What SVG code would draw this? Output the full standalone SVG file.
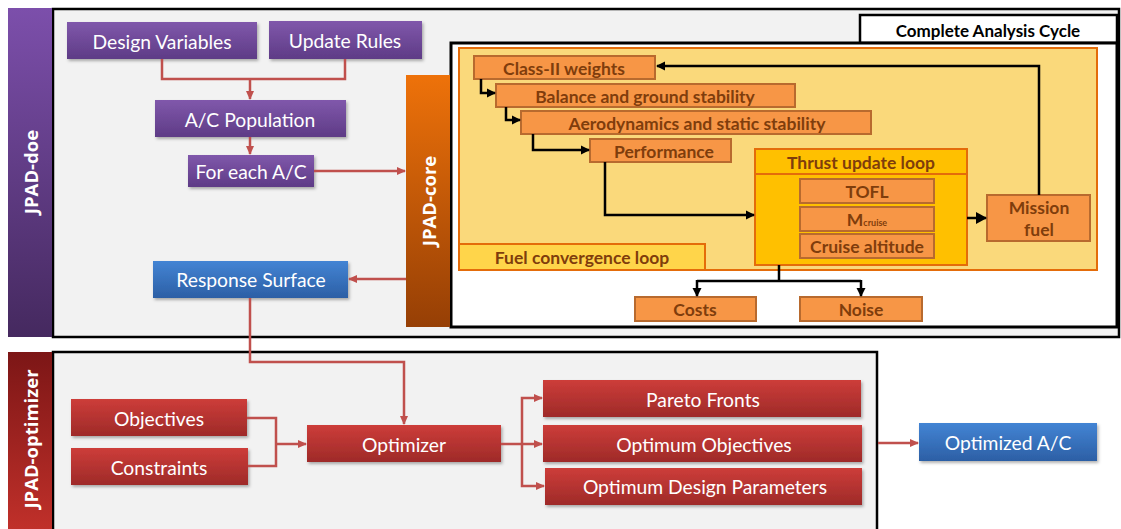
<svg xmlns="http://www.w3.org/2000/svg" width="1121" height="529" viewBox="0 0 1121 529">
<defs>
  <linearGradient id="gPurple" x1="0" y1="0" x2="0" y2="1"><stop offset="0" stop-color="#8058ab"/><stop offset="1" stop-color="#5e3b86"/></linearGradient>
  <linearGradient id="gRed" x1="0" y1="0" x2="0" y2="1"><stop offset="0" stop-color="#cd3d3a"/><stop offset="1" stop-color="#9e2a28"/></linearGradient>
  <linearGradient id="gBlue" x1="0" y1="0" x2="0" y2="1"><stop offset="0" stop-color="#4384d4"/><stop offset="1" stop-color="#2c5fa5"/></linearGradient>
  <linearGradient id="gDoe" x1="0" y1="0" x2="0" y2="1"><stop offset="0" stop-color="#7c4fab"/><stop offset="1" stop-color="#45295f"/></linearGradient>
  <linearGradient id="gCore" x1="0" y1="0" x2="0" y2="1"><stop offset="0" stop-color="#ee720a"/><stop offset="1" stop-color="#963f05"/></linearGradient>
  <linearGradient id="gOpt" x1="0" y1="0" x2="0" y2="1"><stop offset="0" stop-color="#7c1616"/><stop offset="1" stop-color="#c0302a"/></linearGradient>
  <filter id="sh" x="-5%" y="-10%" width="112%" height="130%"><feDropShadow dx="1.5" dy="2" stdDeviation="1.5" flood-color="#000" flood-opacity="0.3"/></filter>
  <marker id="aRed" markerWidth="10" markerHeight="10" refX="8" refY="5" orient="auto" markerUnits="userSpaceOnUse"><path d="M0,1 L9,5 L0,9 Z" fill="#c0504d"/></marker>
  <marker id="aBlk" markerWidth="10" markerHeight="10" refX="8" refY="5" orient="auto" markerUnits="userSpaceOnUse"><path d="M0,0.5 L9,5 L0,9.5 Z" fill="#000"/></marker>
  <marker id="aBlkBig" markerWidth="12" markerHeight="12" refX="10" refY="6" orient="auto" markerUnits="userSpaceOnUse"><path d="M0,0 L11,6 L0,12 Z" fill="#000"/></marker>
</defs>
<style>
  .lbl { font-family: Lato, "Open Sans", "Liberation Sans", sans-serif; fill: #fff; text-anchor: middle; dominant-baseline: central; font-size: 19.3px; }
  .side { font-family: "Open Sans", "Liberation Sans", sans-serif; font-weight: bold; fill: #fff; text-anchor: middle; dominant-baseline: central; font-size: 18.5px; }
  .ob { fill: #f79646; stroke: #b86a2e; stroke-width: 2; }
  .ot { font-family: Lato, "Open Sans", "Liberation Sans", sans-serif; font-weight: bold; fill: #7f3d0c; text-anchor: middle; dominant-baseline: central; font-size: 17.5px; }
  .rl { fill: none; stroke: #c0504d; stroke-width: 2.5; }
  .bl { fill: none; stroke: #000; stroke-width: 2.5; }
</style>
<rect width="1121" height="529" fill="#fff"/>

<!-- containers -->
<g id="doe-container">
  <rect x="53" y="9" width="1066" height="328" fill="#f2f2f2" stroke="#000" stroke-width="2.5"/>
  <rect x="8" y="8" width="44" height="329" fill="url(#gDoe)"/>
  <text class="side" transform="translate(30,172) rotate(-90)">JPAD-doe</text>
</g>
<g id="opt-container">
  <rect x="53" y="352" width="824" height="180" fill="#f2f2f2" stroke="#000" stroke-width="2.5"/>
  <rect x="8" y="352" width="44" height="177" fill="url(#gOpt)"/>
  <text class="side" transform="translate(30,439) rotate(-90)">JPAD-optimizer</text>
</g>
<g id="cycle-container">
  <rect x="860" y="15" width="257" height="28" fill="#fff" stroke="#000" stroke-width="2.5"/>
  <text x="988" y="30" font-family="Lato, 'Open Sans', 'Liberation Sans', sans-serif" font-weight="bold" font-size="17" text-anchor="middle" dominant-baseline="central" fill="#000">Complete Analysis Cycle</text>
  <rect x="451" y="43" width="666" height="284" fill="#fff" stroke="#000" stroke-width="3"/>
</g>
<g id="jpad-core">
  <rect x="406" y="75" width="44" height="252" fill="url(#gCore)"/>
  <text class="side" transform="translate(428,201) rotate(-90)">JPAD-core</text>
</g>

<!-- fuel convergence loop -->
<g id="fuel-loop">
  <rect x="459" y="48" width="638" height="222" fill="#fad97b" stroke="#e46c0a" stroke-width="2"/>
  <rect x="459" y="244" width="246" height="26" fill="#ffd54a" stroke="#e46c0a" stroke-width="2"/>
  <text class="ot" x="582" y="257">Fuel convergence loop</text>
</g>
<g id="thrust-loop">
  <rect x="755" y="149" width="212" height="116" fill="#ffc000" stroke="#e46c0a" stroke-width="2"/>
  <line x1="755" y1="174" x2="967" y2="174" stroke="#e46c0a" stroke-width="2"/>
  <text class="ot" x="861" y="162">Thrust update loop</text>
</g>

<!-- orange nodes -->
<g id="class2"><rect class="ob" x="474" y="56" width="181" height="23"/><text class="ot" x="564" y="68">Class-II weights</text></g>
<g id="balance"><rect class="ob" x="496" y="84" width="299" height="23"/><text class="ot" x="645" y="96">Balance and ground stability</text></g>
<g id="aero"><rect class="ob" x="521" y="111" width="350" height="23"/><text class="ot" x="697" y="123">Aerodynamics and static stability</text></g>
<g id="performance"><rect class="ob" x="590" y="139" width="141" height="23"/><text class="ot" x="664" y="151">Performance</text></g>
<g id="tofl"><rect class="ob" x="800" y="179" width="134" height="24"/><text class="ot" x="867" y="191" font-size="14">TOFL</text></g>
<g id="mcruise"><rect class="ob" x="800" y="207" width="134" height="24"/><text class="ot" x="867" y="219" font-size="14">M<tspan font-size="9" dy="3">cruise</tspan></text></g>
<g id="altitude"><rect class="ob" x="800" y="234" width="134" height="24"/><text class="ot" x="867" y="246" font-size="14">Cruise altitude</text></g>
<g id="mission-fuel"><rect class="ob" x="987" y="195" width="103" height="46"/><text class="ot" x="1039" y="207" font-size="18.5">Mission</text><text class="ot" x="1039" y="229" font-size="18.5">fuel</text></g>
<g id="costs"><rect class="ob" x="635" y="297" width="121" height="24"/><text class="ot" x="695" y="309" font-size="14.5">Costs</text></g>
<g id="noise"><rect class="ob" x="800" y="297" width="122" height="24"/><text class="ot" x="861" y="309" font-size="14.5">Noise</text></g>

<!-- colored nodes -->
<g id="design-variables"><rect x="67" y="22" width="190" height="37" fill="url(#gPurple)" filter="url(#sh)"/><text class="lbl" x="162" y="41">Design Variables</text></g>
<g id="update-rules"><rect x="269" y="21" width="153" height="38" fill="url(#gPurple)" filter="url(#sh)"/><text class="lbl" x="345" y="40">Update Rules</text></g>
<g id="ac-population"><rect x="155" y="100" width="191" height="37" fill="url(#gPurple)" filter="url(#sh)"/><text class="lbl" x="250" y="119">A/C Population</text></g>
<g id="for-each"><rect x="188" y="155" width="126" height="32" fill="url(#gPurple)" filter="url(#sh)"/><text class="lbl" x="251" y="171" font-size="14">For each A/C</text></g>
<g id="response-surface"><rect x="153" y="261" width="195" height="37" fill="url(#gBlue)" filter="url(#sh)"/><text class="lbl" x="251" y="279">Response Surface</text></g>
<g id="objectives"><rect x="71" y="399" width="176" height="37" fill="url(#gRed)" filter="url(#sh)"/><text class="lbl" x="159" y="418">Objectives</text></g>
<g id="constraints"><rect x="71" y="448" width="177" height="37" fill="url(#gRed)" filter="url(#sh)"/><text class="lbl" x="159" y="467">Constraints</text></g>
<g id="optimizer"><rect x="307" y="425" width="194" height="37" fill="url(#gRed)" filter="url(#sh)"/><text class="lbl" x="404" y="444">Optimizer</text></g>
<g id="pareto"><rect x="543" y="380" width="318" height="37" fill="url(#gRed)" filter="url(#sh)"/><text class="lbl" x="703" y="399">Pareto Fronts</text></g>
<g id="opt-objectives"><rect x="543" y="425" width="319" height="37" fill="url(#gRed)" filter="url(#sh)"/><text class="lbl" x="704" y="444">Optimum Objectives</text></g>
<g id="opt-params"><rect x="545" y="468" width="317" height="37" fill="url(#gRed)" filter="url(#sh)"/><text class="lbl" x="705" y="486">Optimum Design Parameters</text></g>
<g id="optimized-ac"><rect x="919" y="423" width="178" height="38" fill="url(#gBlue)" filter="url(#sh)"/><text class="lbl" x="1008" y="442">Optimized A/C</text></g>

<!-- connectors -->
<g id="connectors">
  <path class="rl" d="M162,59 V79 H345 V59"/>
  <path class="rl" d="M250,79 V99" marker-end="url(#aRed)"/>
  <path class="rl" d="M250,137 V154" marker-end="url(#aRed)"/>
  <path class="rl" d="M314,171 H405" marker-end="url(#aRed)"/>
  <path class="rl" d="M406,279 H349" marker-end="url(#aRed)"/>
  <path class="rl" d="M250,298 V362 H404 V424" marker-end="url(#aRed)"/>
  <path class="rl" d="M247,418 H276 V466 H248"/>
  <path class="rl" d="M276,444 H306" marker-end="url(#aRed)"/>
  <path class="rl" d="M501,444 H542" marker-end="url(#aRed)"/>
  <path class="rl" d="M522,444 V398 H542" marker-end="url(#aRed)"/>
  <path class="rl" d="M522,444 V486 H544" marker-end="url(#aRed)"/>
  <path class="rl" d="M878,443 H918" marker-end="url(#aRed)"/>

  <path class="bl" d="M1039,195 V66 H657" marker-end="url(#aBlk)"/>
  <path class="bl" d="M481,79 V93 H495" marker-end="url(#aBlk)"/>
  <path class="bl" d="M506,107 V120 H520" marker-end="url(#aBlk)"/>
  <path class="bl" d="M533,134 V150 H589" marker-end="url(#aBlk)"/>
  <path class="bl" d="M605,162 V215 H754" marker-end="url(#aBlk)"/>
  <path class="bl" d="M967,218 H986" stroke-width="3.5" marker-end="url(#aBlkBig)"/>
  <path class="bl" d="M779,265 V281"/>
  <path class="bl" d="M697,281 H861"/>
  <path class="bl" d="M697,280 V296" marker-end="url(#aBlk)"/>
  <path class="bl" d="M861,280 V296" marker-end="url(#aBlk)"/>
</g>
</svg>
